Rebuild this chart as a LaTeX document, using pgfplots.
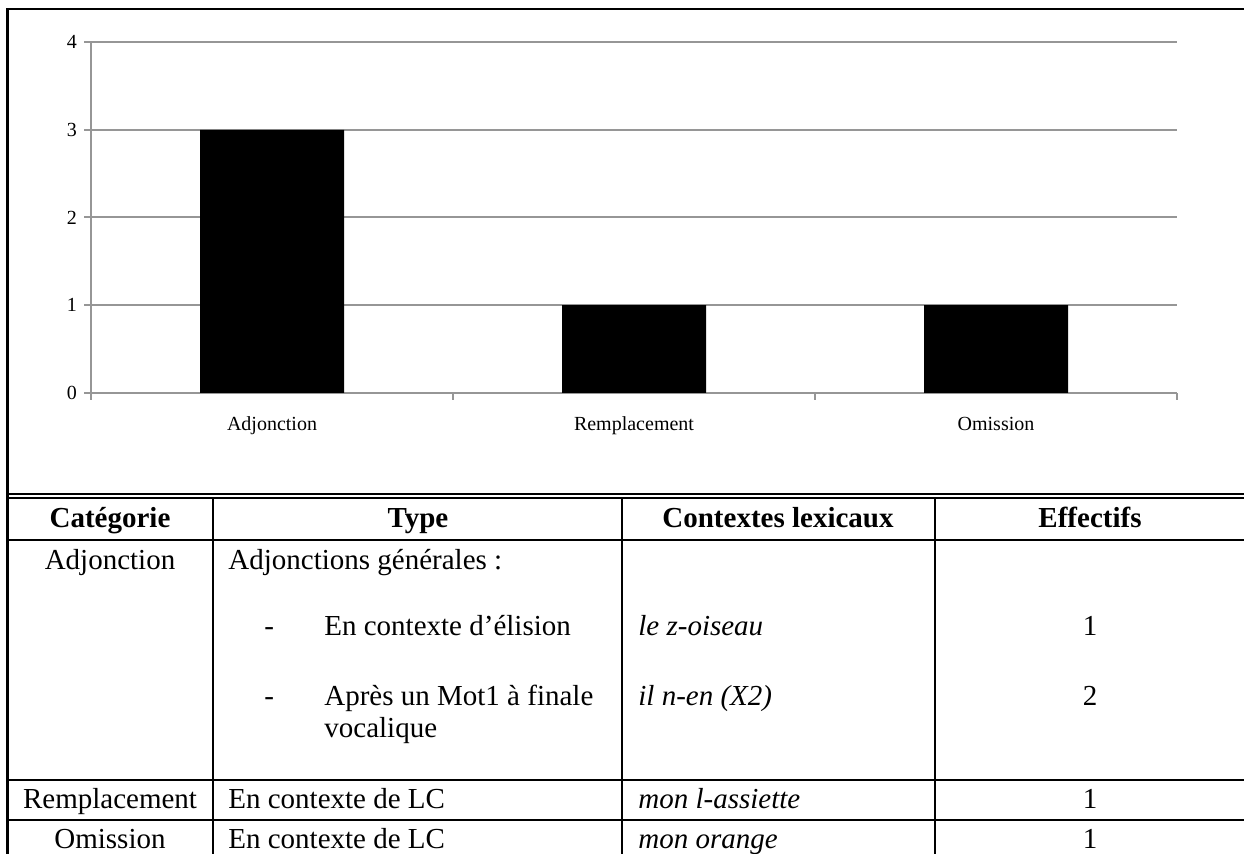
\documentclass[border=0pt]{standalone}
\usepackage{fontspec}
\setmainfont{Liberation Serif}
\usepackage{pgfplots}
\pgfplotsset{compat=1.18}
\definecolor{gridgray}{RGB}{150,150,150}

\begin{document}
\begin{tikzpicture}
\path[use as bounding box] (0pt,0pt) rectangle (622pt,-427pt);
\begin{scope}[x=0.5pt,y=-0.5pt]
% outer frame
\draw[line width=1.4pt] (7.5,870) -- (7.5,9) -- (1260,9);
% table rules
\draw[line width=1pt] (7.5,494.5) -- (1260,494.5);
\draw[line width=1pt] (7.5,498.5) -- (1260,498.5);
\draw[line width=1.1pt] (7.5,540) -- (1260,540);
\draw[line width=1pt] (7.5,780) -- (1260,780);
\draw[line width=1pt] (7.5,820.5) -- (1260,820.5);
\draw[line width=1pt] (213,498) -- (213,870);
\draw[line width=1pt] (622,498) -- (622,870);
\draw[line width=1pt] (935,498) -- (935,870);
% header
\tikzset{tbl/.style={inner sep=0pt,font=\fontsize{14.5}{17}\selectfont}}
\node[tbl,anchor=base,font=\fontsize{14.5}{17}\selectfont\bfseries] at (110,528) {Catégorie};
\node[tbl,anchor=base,font=\fontsize{14.5}{17}\selectfont\bfseries] at (418,528) {Type};
\node[tbl,anchor=base,font=\fontsize{14.5}{17}\selectfont\bfseries] at (778,528) {Contextes lexicaux};
\node[tbl,anchor=base,font=\fontsize{14.5}{17}\selectfont\bfseries] at (1090,528) {Effectifs};
% Adjonction row
\node[tbl,anchor=base] at (110,570) {Adjonction};
\node[tbl,anchor=base west] at (228,570) {Adjonctions générales :};
\node[tbl,anchor=base west] at (264,636) {-};
\node[tbl,anchor=base west] at (324,636) {En contexte d’élision};
\node[tbl,anchor=base west] at (264,706) {-};
\node[tbl,anchor=base west] at (324,706) {Après un Mot1 à finale};
\node[tbl,anchor=base west] at (324,738) {vocalique};
\node[tbl,anchor=base west,font=\fontsize{14.5}{17}\selectfont\itshape] at (638,636) {le z-oiseau};
\node[tbl,anchor=base west,font=\fontsize{14.5}{17}\selectfont\itshape] at (638,706) {il n-en (X2)};
\node[tbl,anchor=base] at (1090,636) {1};
\node[tbl,anchor=base] at (1090,706) {2};
% Remplacement row
\node[tbl,anchor=base] at (110,809) {Remplacement};
\node[tbl,anchor=base west] at (228,809) {En contexte de LC};
\node[tbl,anchor=base west,font=\fontsize{14.5}{17}\selectfont\itshape] at (638,809) {mon l-assiette};
\node[tbl,anchor=base] at (1090,809) {1};
% Omission row
\node[tbl,anchor=base] at (110,849) {Omission};
\node[tbl,anchor=base west] at (228,849) {En contexte de LC};
\node[tbl,anchor=base west,font=\fontsize{14.5}{17}\selectfont\itshape] at (638,849) {mon orange};
\node[tbl,anchor=base] at (1090,849) {1};
\end{scope}

\begin{axis}[
  at={(45.5pt,-196.5pt)}, anchor=south west,
  scale only axis, width=543pt, height=175.5pt,
  xmin=-0.5, xmax=2.5, ymin=0, ymax=4,
  axis x line=bottom, axis y line=left,
  axis line style={-, draw=gridgray, line width=1pt},
  ytick={0,1,2,3,4},
  xtick={-0.5,0.5,1.5,2.5}, xticklabels={},
  extra x ticks={0,1,2},
  extra x tick labels={Adjonction,Remplacement,Omission},
  extra x tick style={tick style={draw=none}},
  tick align=outside, major tick length=3.5pt,
  tick style={draw=gridgray, line width=1pt},
  ymajorgrids, grid style={draw=gridgray, line width=1pt},
  ticklabel style={font=\fontsize{10}{12}\selectfont},
  /pgf/number format/assume math mode=true,
  xticklabel style={yshift=-5pt},
  clip=false,
]
\addplot[ybar, fill=black, draw=none, bar width=72pt] coordinates {(0,3) (1,1) (2,1)};
\end{axis}
\end{tikzpicture}
\end{document}
